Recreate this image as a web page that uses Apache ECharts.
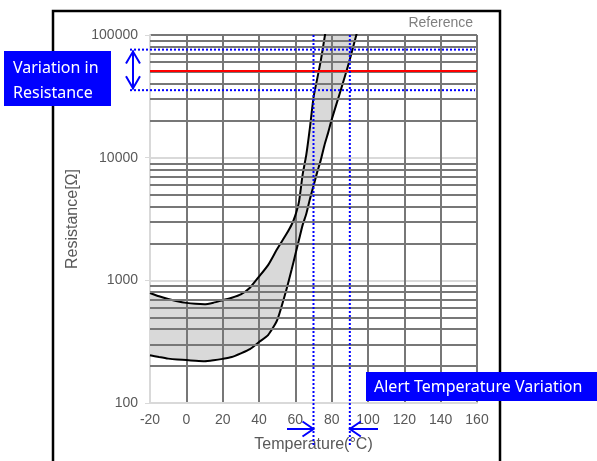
<!DOCTYPE html>
<html><head><meta charset="utf-8">
<script src="https://cdn.jsdelivr.net/npm/echarts@6/dist/echarts.min.js"></script>
<style>html,body{margin:0;padding:0;background:#fff}#c{width:597px;height:461px}</style>
</head><body><div id="c"></div>
<script>
// ---- data ----
const temps = [-20,-15,-10,-5,0,5,10,15,20,25,30,35,40,45,50,55,58,60,62,64,66,68,70,72,74,76,78,80,85,90,95,100];
const upperR = [789,741,705,676,655,643,638,658,689,721,767,871,1072,1330,1800,2370,2851,3388,4365,7244,10471,17378,30903,43652,61660,93325,141254,213796,630957,1778279,5011872,14125375];
const lowerR = [245,237,230,226,224,221,219,223,229,237,254,275,314,358,473,830,1230,1622,2138,2818,3467,4571,5888,7586,9550,12589,15849,20417,35481,63096,120226,223872];
const xTicks = [-20,0,20,40,60,80,100,120,140,160];
const yTickLabels = ['100','1000','10000','100000'];
const referenceR = 51000;          // red line
const resistanceBand = [76000, 35500]; // blue dotted horizontal lines
const alertTemps = [70, 90];        // blue dotted vertical lines

const FONT = 'Liberation Sans, Arial, sans-serif';
const chart = echarts.init(document.getElementById('c'), null, {renderer:'canvas'});

const minorVals = [];
for (let d = 100; d < 100000; d *= 10) for (let k = 2; k <= 9; k++) minorVals.push(d * k);

const pair = arr => temps.map((t, i) => [t, arr[i]]);

chart.setOption({
  animation: false,
  grid: {left:150, right:120, top:35, bottom:58},
  xAxis: {
    type:'value', min:-20, max:160, interval:20,
    name:'Temperature(°C)', nameLocation:'middle', nameGap:34,
    nameTextStyle:{fontSize:16, color:'#595959', fontFamily:FONT},
    axisLine:{onZero:false, lineStyle:{color:'#d9d9d9', width:2}},
    axisTick:{show:false},
    axisLabel:{fontSize:14, color:'#595959', margin:10, fontFamily:FONT,
      formatter: v => xTicks.includes(v) ? String(v) : ''},
    splitLine:{show:true, showMinLine:false, lineStyle:{color:'#777', width:2}}
  },
  yAxis: {
    type:'log', logBase:10, min:100, max:100000,
    name:'Resistance[Ω]', nameLocation:'middle', nameGap:60,
    nameTextStyle:{fontSize:16, color:'#595959', fontFamily:FONT},
    axisLine:{show:true, onZero:false, lineStyle:{color:'#d9d9d9', width:2}},
    axisTick:{show:true, length:5, lineStyle:{color:'#d9d9d9', width:1}},
    axisLabel:{fontSize:14, color:'#595959', margin:12, fontFamily:FONT,
      formatter: v => yTickLabels[Math.round(Math.log10(v)) - 2] || ''},
    splitLine:{show:true, lineStyle:{color:['#d9d9d9','#d9d9d9','#d9d9d9','#777'], width:2}}
  },
  series: [
    // grey band: upper area filled grey, lower area masked white (both under the grid lines)
    {name:'bandTop', type:'line', data:pair(upperR), symbol:'none', smooth:0.2,
     lineStyle:{width:0, opacity:0}, areaStyle:{color:'#d9d9d9', opacity:1, origin:'start'}, z:-2, silent:true},
    {name:'bandMask', type:'line', data:pair(lowerR), symbol:'none', smooth:0.2,
     lineStyle:{width:0, opacity:0}, areaStyle:{color:'#ffffff', opacity:1, origin:'start'}, z:-1, silent:true},
    {name:'grid', type:'line', data:[], z:1, silent:true,
     markLine:{silent:true, symbol:'none', label:{show:false}, animation:false,
       lineStyle:{color:'#777', width:2, type:'solid'},
       data: minorVals.map(v => ({yAxis:v}))}},
    {name:'ref', type:'line', data:[], z:3, silent:true,
     markLine:{silent:true, symbol:'none', label:{show:false}, animation:false,
       lineStyle:{color:'#ff0000', width:2, type:'solid'},
       data:[{yAxis:referenceR}]}},
    {name:'upper', type:'line', data:pair(upperR), symbol:'none', smooth:0.2,
     lineStyle:{color:'#000', width:2}, z:4},
    {name:'lower', type:'line', data:pair(lowerR), symbol:'none', smooth:0.2,
     lineStyle:{color:'#000', width:2}, z:4}
  ]
});

// ---- annotations positioned through the chart's own scales ----
const px = (x, y) => chart.convertToPixel({gridIndex:0}, [x, y]);
const [xL, yTop] = px(-20, 100000);
const [xR, yBot] = px(160, 100);
const yHi = px(0, resistanceBand[0])[1];
const yLo = px(0, resistanceBand[1])[1];
const xa = px(alertTemps[0], 1000)[0];
const xb = px(alertTemps[1], 1000)[0];
const blue = '#0000ff';
const dotted = {stroke:blue, lineWidth:2, lineDash:[2,2], fill:'none'};
const solid = {stroke:blue, lineWidth:2, fill:'none'};
const vArrowX = 133;
const hArrowY = 429;
const g = [
  {type:'rect', shape:{x:53, y:11, width:447, height:480}, style:{fill:'none', stroke:'#000', lineWidth:2.5}, z:0},
  {type:'text', x:473, y:23, style:{text:'Reference', fill:'#7f7f7f', font:'14px ' + FONT, align:'right', verticalAlign:'middle'}, z:5},
  {type:'line', shape:{x1:130, y1:yHi, x2:xR - 2, y2:yHi}, style:dotted, z:10},
  {type:'line', shape:{x1:130, y1:yLo, x2:xR - 2, y2:yLo}, style:dotted, z:10},
  {type:'line', shape:{x1:xa, y1:yTop, x2:xa, y2:445}, style:dotted, z:10},
  {type:'line', shape:{x1:xb, y1:yTop, x2:xb, y2:445}, style:dotted, z:10},
  // vertical double arrow
  {type:'line', shape:{x1:vArrowX, y1:yHi + 1, x2:vArrowX, y2:yLo - 1}, style:solid, z:10},
  {type:'polyline', shape:{points:[[vArrowX - 7, yHi + 14], [vArrowX, yHi + 2], [vArrowX + 7, yHi + 14]]}, style:solid, z:10},
  {type:'polyline', shape:{points:[[vArrowX - 7, yLo - 14], [vArrowX, yLo - 2], [vArrowX + 7, yLo - 14]]}, style:solid, z:10},
  // horizontal arrows
  {type:'line', shape:{x1:287, y1:hArrowY, x2:xa, y2:hArrowY}, style:solid, z:10},
  {type:'polyline', shape:{points:[[xa - 11, hArrowY - 7.5], [xa, hArrowY], [xa - 11, hArrowY + 7.5]]}, style:solid, z:10},
  {type:'line', shape:{x1:378, y1:hArrowY, x2:xb, y2:hArrowY}, style:solid, z:10},
  {type:'polyline', shape:{points:[[xb + 11, hArrowY - 7.5], [xb, hArrowY], [xb + 11, hArrowY + 7.5]]}, style:solid, z:10},
  // blue label boxes
  {type:'rect', shape:{x:4, y:51, width:107, height:55}, style:{fill:blue}, z:20},
  {type:'text', x:13, y:68, style:{text:'Variation in', fill:'#fff', font:'16px Noto Sans', verticalAlign:'middle'}, z:21},
  {type:'text', x:13, y:93, style:{text:'Resistance', fill:'#fff', font:'16px Noto Sans', verticalAlign:'middle'}, z:21},
  {type:'rect', shape:{x:366, y:372, width:240, height:29}, style:{fill:blue}, z:20},
  {type:'text', x:374, y:387, style:{text:'Alert Temperature Variation', fill:'#fff', font:'16px Noto Sans', verticalAlign:'middle'}, z:21}
];
chart.setOption({graphic: g});
</script>
</body></html>
